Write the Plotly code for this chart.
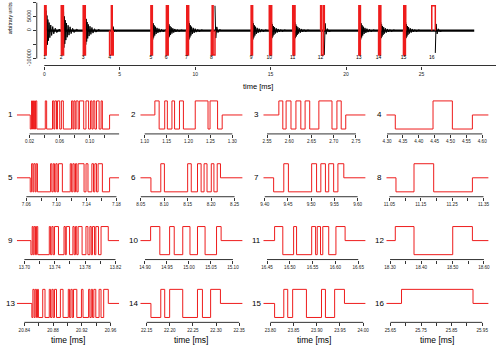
import plotly.graph_objects as go

# ---------------- data ----------------
burst_id = list(range(1, 17))
burst_on = [0.0209, 1.1232, 2.5766, 4.3259, 7.0652, 8.0717, 9.4191, 11.0709,
            13.7086, 14.9128, 16.4666, 18.3168, 20.8505, 22.1592, 23.8091, 25.6863]
burst_off = [0.1264, 1.2769, 2.7270, 4.5690, 7.1709, 8.2200, 9.5703, 11.3146,
             13.8105, 15.0731, 16.6212, 18.5632, 20.9569, 22.3095, 23.9597, 25.9200]
burst_highs = [
    [[0.0226, 0.0239], [0.0252, 0.0265], [0.0279, 0.0296], [0.0409, 0.0427], [0.0505, 0.0523],
     [0.0536, 0.0558], [0.0571, 0.0601], [0.0623, 0.0649], [0.0758, 0.0776], [0.0789, 0.0806],
     [0.0819, 0.0846], [0.0863, 0.0920], [0.0950, 0.0985], [0.1011, 0.1029], [0.1046, 0.1068],
     [0.1090, 0.1125], [0.1151, 0.1168]],
    [[1.1232, 1.1330], [1.1457, 1.1517], [1.1622, 1.1682], [1.1794, 1.1884], [1.2154, 1.2446],
     [1.2492, 1.2664]],
    [[2.5766, 2.5855], [2.5929, 2.6039], [2.6150, 2.6260], [2.6356, 2.6460], [2.6666, 2.6961],
     [2.7072, 2.7168]],
    [[4.4449, 4.5059]],
    [[7.0670, 7.0687], [7.0700, 7.0718], [7.0731, 7.0748], [7.0923, 7.0940], [7.0958, 7.0975],
     [7.0993, 7.1010], [7.1028, 7.1080], [7.1185, 7.1203], [7.1220, 7.1238], [7.1255, 7.1272],
     [7.1290, 7.1369], [7.1395, 7.1421], [7.1473, 7.1495], [7.1513, 7.1535], [7.1556, 7.1613]],
    [[8.0927, 8.1004], [8.1500, 8.1577], [8.1710, 8.1787], [8.1850, 8.1913], [8.2004, 8.2060],
     [8.2130, 8.2200]],
    [[9.4410, 9.4509], [9.5010, 9.5116], [9.5208, 9.5307], [9.5378, 9.5484], [9.5576, 9.5703]],
    [[11.1284, 11.1911]],
    [[13.7103, 13.7116], [13.7129, 13.7146], [13.7159, 13.7176], [13.7328, 13.7345], [13.7362, 13.7379],
     [13.7397, 13.7449], [13.7522, 13.7539], [13.7552, 13.7595], [13.7639, 13.7656], [13.7673, 13.7690],
     [13.7708, 13.7760], [13.7811, 13.7837], [13.7863, 13.7881], [13.7898, 13.7924], [13.7941, 13.7976],
     [13.8010, 13.8105]],
    [[14.9128, 14.9337], [14.9560, 14.9665], [14.9859, 15.0023], [15.0194, 15.0366], [15.0627, 15.0731]],
    [[16.4666, 16.4846], [16.5083, 16.5148], [16.5479, 16.5565], [16.5601, 16.5673], [16.5723, 16.5853],
     [16.6011, 16.6212]],
    [[18.3168, 18.3766], [18.5003, 18.5632]],
    [[20.8519, 20.8537], [20.8551, 20.8569], [20.8583, 20.8596], [20.8656, 20.8688], [20.8747, 20.8765],
     [20.8784, 20.8802], [20.8820, 20.8848], [20.8902, 20.8939], [20.9012, 20.9030], [20.9048, 20.9067],
     [20.9085, 20.9131], [20.9195, 20.9217], [20.9295, 20.9313], [20.9332, 20.9350], [20.9368, 20.9395],
     [20.9441, 20.9468], [20.9505, 20.9569]],
    [[22.1805, 22.1890], [22.1997, 22.2280], [22.2599, 22.2706], [22.2883, 22.3095]],
    [[23.8289, 23.8374], [23.8480, 23.8777], [23.9102, 23.9187], [23.9385, 23.9597]],
    [[25.6863, 25.9200]],
]

# time window shown in each zoomed panel (ms)
win_lo = [0.0030, 1.0899, 2.5416, 4.2975, 7.0473, 8.0490, 9.3968, 11.0400,
          13.6900, 14.8893, 16.4418, 18.2880, 20.8295, 22.1362, 23.7847, 25.6365]
win_hi = [0.1391, 1.3236, 2.7717, 4.6202, 7.1836, 8.2672, 9.6173, 11.3663,
          13.8248, 15.1220, 16.6662, 18.6150, 20.9720, 22.3575, 24.0053, 25.9710]

# tick specifications of the zoomed panels
tick_first = [0.02, 1.10, 2.55, 4.30, 7.06, 8.05, 9.40, 11.05, 13.70, 14.90, 16.45, 18.30, 20.84, 22.15, 23.80, 25.65]
tick_last = [0.14, 1.30, 2.75, 4.60, 7.18, 8.25, 9.60, 11.35, 13.82, 15.10, 16.65, 18.60, 20.96, 22.35, 24.00, 25.95]
tick_step = [0.02, 0.05, 0.05, 0.05, 0.02, 0.05, 0.05, 0.05, 0.02, 0.05, 0.05, 0.05, 0.02, 0.05, 0.05, 0.05]
label_every = [2, 1, 1, 1, 2, 1, 1, 2, 2, 1, 1, 2, 2, 1, 1, 2]

# overview trace levels (arbitrary units)
top_high = 8900
top_low = -8700
trace_span = [0.0, 28.5]          # extent of recorded trace (ms)
ring_peak = [7200, 6800, 5600, 1500, 3500, 3000, 3500, 8900,
             3500, 3000, 3000, -8700, 3500, 3000, 3000, -8000]
ring_dt = [0.00, 0.02, 0.05, 0.08, 0.11, 0.15, 0.19, 0.24, 0.30, 0.36, 0.43, 0.50, 0.60, 0.70, 0.85, 1.00]
ring_rel = [1.0, -0.9, 0.75, -0.7, 0.55, -0.5, 0.4, -0.35, 0.28, -0.24, 0.2, -0.16, 0.12, -0.1, 0.07, 0.0]
spike_dt = [0.00, 0.05, 0.12, 0.20, 0.30, 0.45]
spike_rel = [1.0, -0.3, 0.15, -0.08, 0.04, 0.0]
sparse_bursts = [4, 8, 12, 16]

top_xticks = [0, 5, 10, 15, 20, 25, 30]
top_xlabels = ['0', '5', '10', '15', '20', '25', '']
top_yticks = [-10000, -5000, 0, 5000, 10000]
top_ylabels = ['-10000', '', '0', '5000', '']

# ---------------- layout helpers ----------------
W, H = 500, 346
FONT = 'Liberation Sans, Arial, sans-serif'
RED = '#ee1c1c'


def px(p):
    return p / W


def py(p):
    return 1 - p / H


def steps(i):
    ev = {burst_on[i]: -1}
    for a, b in burst_highs[i]:
        ev[a] = 1
        ev[b] = -1
    ev[burst_off[i]] = 0
    ts = sorted(ev)
    return ts, [ev[t] for t in ts]


fig = go.Figure()
layout = dict(width=W, height=H, margin=dict(l=0, r=0, t=0, b=0),
              paper_bgcolor='white', plot_bgcolor='white', showlegend=False,
              font=dict(family=FONT, color='black'))
shapes = []
annotations = []

# ---------------- overview panel ----------------
top_left_px, top_right_px = 33.3, 500
top_x0 = -0.5
top_x1 = top_x0 + (top_right_px - top_left_px) / 15.33
layout['xaxis'] = dict(domain=[px(top_left_px), px(top_right_px)], range=[top_x0, top_x1],
                       anchor='y', showgrid=False, zeroline=False, showline=False,
                       ticks='outside', ticklen=3, tickwidth=1, tickcolor='#333',
                       tickvals=top_xticks, ticktext=top_xlabels,
                       tickfont=dict(size=5, family=FONT, color='#222'))
layout['yaxis'] = dict(domain=[py(65.7), 1], range=[-12500, 10964], anchor='x',
                       showgrid=False, zeroline=False, showline=False,
                       ticks='outside', ticklen=3, tickwidth=1, tickcolor='#333',
                       tickvals=top_yticks, ticktext=top_ylabels, tickangle=-90,
                       tickfont=dict(size=5.5, family=FONT, color='#222'))
shapes.append(dict(type='line', xref='x', yref='y domain', x0=top_xticks[0], x1=top_xticks[-1],
                   y0=0, y1=0, line=dict(color='#333', width=1)))
shapes.append(dict(type='line', xref='x domain', yref='y', x0=0, x1=0,
                   y0=top_yticks[0], y1=top_yticks[-1], line=dict(color='#333', width=1)))

# black baseline (noise band) and ringing after each burst
fig.add_trace(go.Scatter(x=trace_span, y=[0, 0], mode='lines',
                         line=dict(color='black', width=2.2), xaxis='x', yaxis='y', hoverinfo='skip'))
bx, by = [], []
for i in range(16):
    if burst_id[i] in sparse_bursts:
        dts, rel = spike_dt, spike_rel
    else:
        dts, rel = ring_dt, ring_rel
    bx += [burst_off[i] + d for d in dts] + [None]
    by += [ring_peak[i] * r for r in rel] + [None]
fig.add_trace(go.Scatter(x=bx, y=by, mode='lines', line=dict(color='black', width=1),
                         xaxis='x', yaxis='y', hoverinfo='skip'))

# red bursts in the overview
rx, ry = [], []
lvl_top = {1: top_high, -1: top_low, 0: 0}
for i in range(16):
    ts, lv = steps(i)
    rx += [burst_on[i]] + ts + [None]
    ry += [0] + [lvl_top[v] for v in lv] + [None]
fig.add_trace(go.Scatter(x=rx, y=ry, mode='lines', line=dict(color=RED, width=1.5, shape='hv'),
                         xaxis='x', yaxis='y', hoverinfo='skip', connectgaps=False))
fig.add_trace(go.Scatter(x=burst_on, y=[-9850] * 16, mode='text', text=[str(b) for b in burst_id],
                         textfont=dict(size=5, family=FONT, color='black'),
                         xaxis='x', yaxis='y', hoverinfo='skip'))

annotations.append(dict(text='time [ms]', xref='paper', yref='paper', x=px(258), y=py(86.5),
                        showarrow=False, font=dict(size=7.5, family=FONT, color='black'),
                        xanchor='center', yanchor='middle'))
annotations.append(dict(text='arbitrary units', xref='paper', yref='paper', x=px(6.5), y=py(18),
                        showarrow=False, textangle=-90, font=dict(size=5.3, family=FONT, color='black'),
                        xanchor='center', yanchor='middle'))

# ---------------- zoomed panels ----------------
col_start = [13, 138.5, 263.5, 388.5]
col_width = 104
row_idle = [115.3, 178.3, 241.3, 304.3]
half_h = 19.0
lvl_pan = {1: 1.0, -1: -1.0, 0: 0.0}

for i in range(16):
    r, c = divmod(i, 4)
    k = i + 2
    xa, ya = 'x%d' % k, 'y%d' % k
    n_ticks = int(round((tick_last[i] - tick_first[i]) / tick_step[i])) + 1
    tv = [tick_first[i] + j * tick_step[i] for j in range(n_ticks)]
    tt = ['%.2f' % v if j % label_every[i] == 0 else '' for j, v in enumerate(tv)]
    layout['xaxis%d' % k] = dict(domain=[px(col_start[c]), px(col_start[c] + col_width)],
                                 range=[win_lo[i], win_hi[i]], anchor=ya,
                                 showgrid=False, zeroline=False, showline=False,
                                 ticks='outside', ticklen=3, tickwidth=1, tickcolor='#333',
                                 tickvals=tv, ticktext=tt,
                                 tickfont=dict(size=4.6, family=FONT, color='#222'))
    layout['yaxis%d' % k] = dict(domain=[py(row_idle[r] + half_h), py(row_idle[r] - half_h)],
                                 range=[-1.348, 1.348], anchor=xa, visible=False)
    shapes.append(dict(type='line', xref=xa, yref=ya + ' domain', x0=tick_first[i], x1=tick_last[i],
                       y0=0, y1=0, line=dict(color='#333', width=1)))
    ts, lv = steps(i)
    fig.add_trace(go.Scatter(x=[win_lo[i]] + ts + [win_hi[i]], y=[0] + [lvl_pan[v] for v in lv] + [0],
                             mode='lines', line=dict(color=RED, width=1, shape='hv'),
                             xaxis=xa, yaxis=ya, hoverinfo='skip'))
    annotations.append(dict(text=str(burst_id[i]), xref='paper', yref='paper',
                            x=px(col_start[c] - 6.5), y=py(row_idle[r]), showarrow=False,
                            font=dict(size=8, family=FONT, color='black'),
                            xanchor='center', yanchor='middle'))
    if r == 3:
        annotations.append(dict(text='time [ms]', xref='paper', yref='paper',
                                x=px(col_start[c] + col_width / 2), y=py(341),
                                showarrow=False, font=dict(size=8.5, family=FONT, color='black'),
                                xanchor='center', yanchor='middle'))

layout['shapes'] = shapes
layout['annotations'] = annotations
fig.update_layout(**layout)
fig.write_html('out.html')
